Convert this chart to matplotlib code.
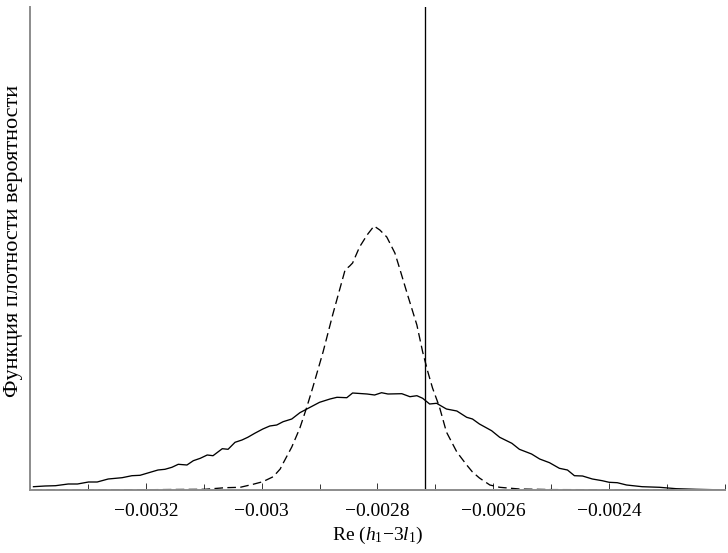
import matplotlib
matplotlib.use("Agg")
import matplotlib.pyplot as plt
from matplotlib.ticker import MultipleLocator, FixedLocator

plt.rcParams['font.family'] = ['Liberation Serif', 'DejaVu Serif']
plt.rcParams['mathtext.fontset'] = 'custom'
plt.rcParams['mathtext.rm'] = 'Liberation Serif'
plt.rcParams['mathtext.it'] = 'Liberation Serif:italic'

# Wide distribution (solid line), arbitrary density units
solid_x = [-0.003394, -0.003374, -0.003356, -0.003334, -0.003318, -0.003299, -0.003284,
           -0.003265, -0.003241, -0.003224, -0.003210, -0.003189, -0.003179, -0.003167,
           -0.003155, -0.003144, -0.003129, -0.003118, -0.003106, -0.003094, -0.003084,
           -0.003068, -0.003058, -0.003046, -0.003034, -0.003024, -0.003012, -0.002998,
           -0.002986, -0.002974, -0.002963, -0.002948, -0.002934, -0.002922, -0.002900,
           -0.002882, -0.002870, -0.002853, -0.002843, -0.002818, -0.002805, -0.002793,
           -0.002782, -0.002758, -0.002744, -0.002732, -0.002722, -0.002710, -0.002698,
           -0.002681, -0.002663, -0.002646, -0.002636, -0.002624, -0.002603, -0.002589,
           -0.002568, -0.002555, -0.002534, -0.002520, -0.002503, -0.002486, -0.002472,
           -0.002460, -0.002446, -0.002429, -0.002412, -0.002400, -0.002386, -0.002370,
           -0.002343, -0.002313, -0.002284, -0.002250, -0.002210]
solid_y = [3.3, 4.0, 4.3, 6.0, 6.0, 8.0, 8.0,
           11.0, 12.3, 14.3, 14.7, 18.3, 20.0, 20.7,
           22.7, 25.7, 25.0, 29.3, 31.7, 35.0, 34.3,
           41.3, 40.7, 47.7, 50.0, 52.7, 56.7, 61.0,
           64.0, 65.0, 68.3, 71.0, 77.3, 81.0, 87.7,
           91.0, 92.7, 92.3, 97.0, 96.0, 95.0, 97.3,
           96.0, 96.3, 93.3, 94.3, 91.7, 86.0, 86.7,
           81.0, 79.0, 72.7, 71.0, 66.0, 59.3, 52.7,
           46.7, 40.7, 36.0, 31.0, 27.3, 21.7, 20.0,
           14.3, 14.0, 11.0, 9.3, 7.7, 7.3, 5.0,
           3.3, 2.7, 1.3, 0.7, 0.2]

# Narrow distribution (dashed line)
dashed_x = [-0.003394, -0.003192, -0.003155, -0.003098, -0.003063, -0.003037, -0.003015,
            -0.002998, -0.002980, -0.002968, -0.002963, -0.002948, -0.002934, -0.002922,
            -0.002912, -0.002894, -0.002877, -0.002856, -0.002848, -0.002843, -0.002831,
            -0.002818, -0.002806, -0.002796, -0.002784, -0.002770, -0.002762, -0.002748,
            -0.002732, -0.002722, -0.002713, -0.002705, -0.002693, -0.002681, -0.002663,
            -0.002646, -0.002636, -0.002624, -0.002606, -0.002589, -0.002555, -0.002498,
            -0.002417, -0.002210]
dashed_y = [0.3, 0.3, 0.5, 0.7, 2.3, 2.7, 5.7,
            8.3, 13.3, 21.0, 26.7, 43.0, 62.0, 83.0,
            102.0, 138.0, 176.0, 220.0, 224.0, 227.0, 243.0,
            255.0, 264.0, 260.0, 253.0, 237.0, 222.0, 195.0,
            165.0, 138.0, 118.0, 102.0, 83.0, 58.0, 38.0,
            25.0, 18.0, 12.0, 5.0, 2.7, 1.0, 0.4,
            0.3, 0.2]

ref_value = -0.002718
x_limits = (-0.0034, -0.0022)
major_ticks = [-0.0032, -0.003, -0.0028, -0.0026, -0.0024]
major_labels = ['\u22120.0032', '\u22120.003', '\u22120.0028', '\u22120.0026', '\u22120.0024']

fig = plt.figure(figsize=(7.28, 5.53), dpi=100)
ax = fig.add_axes([30 / 728, 63 / 553, 695 / 728, 483 / 553])

ax.plot(solid_x, solid_y, color='black', lw=0.95, solid_joinstyle='round')
ax.plot(dashed_x, dashed_y, color='black', lw=0.95, linestyle=(0, (6.5, 3.3)))
ax.axvline(ref_value, color='black', lw=0.95)

ax.set_xlim(*x_limits)
ax.set_ylim(0, 483)

for side in ('top', 'right'):
    ax.spines[side].set_visible(False)
for side in ('left', 'bottom'):
    ax.spines[side].set_color('#8c8c8c')
    ax.spines[side].set_linewidth(1.4)

ax.set_yticks([])
ax.xaxis.set_major_locator(FixedLocator(major_ticks))
ax.set_xticklabels(major_labels)
ax.xaxis.set_minor_locator(MultipleLocator(0.0001))
ax.tick_params(axis='x', which='major', direction='in', length=5.2, width=0.7,
               color='#333333', labelsize=14, pad=9)
ax.tick_params(axis='x', which='minor', direction='in', length=4.0, width=0.7,
               color='#333333')

ax.set_xlabel('Re ($h_1$\u22123$l_1$)', fontsize=14, labelpad=4)
fig.text(14 / 728, (553 - 241) / 553, 'Функция плотности вероятности', fontsize=16,
         rotation=90, ha='center', va='center')

fig.savefig('out.png', dpi=100)
